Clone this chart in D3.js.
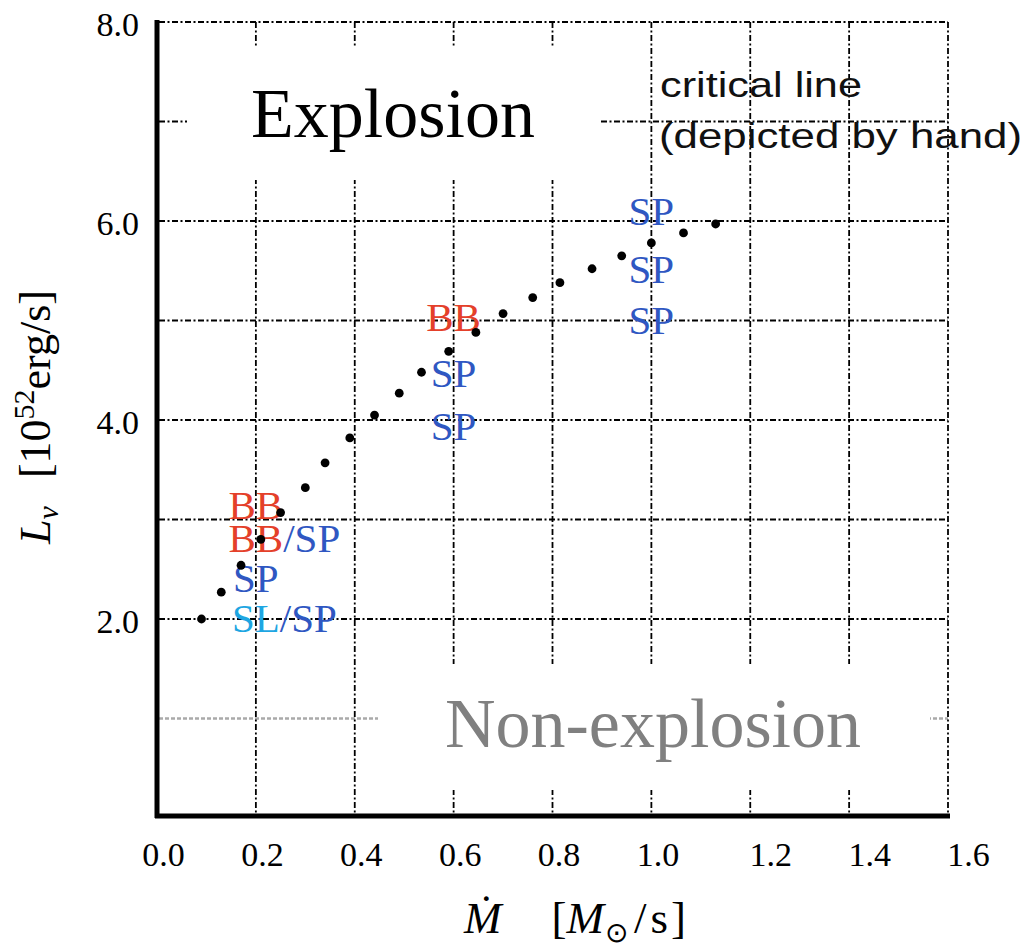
<!DOCTYPE html>
<html>
<head>
<meta charset="utf-8">
<script src="https://cdn.jsdelivr.net/npm/d3@7"></script>
<style>
  html, body { margin: 0; padding: 0; background: #fff; }
  svg { display: block; }
</style>
</head>
<body>
<svg id="chart" width="1025" height="950"></svg>
<script>
// ---------- data ----------
const xTicks = [0.0, 0.2, 0.4, 0.6, 0.8, 1.0, 1.2, 1.4, 1.6];
const yTicks = [2.0, 4.0, 6.0, 8.0];
const yGrid = [2, 3, 4, 5, 6, 7, 8];
const yGridLight = [1];

// critical line points (depicted by hand)
const mdot = [0.09, 0.13, 0.17, 0.21, 0.25, 0.30, 0.34, 0.39, 0.44, 0.49, 0.535,
              0.59, 0.645, 0.70, 0.76, 0.815, 0.88, 0.94, 1.0, 1.065, 1.13];
const lnu  = [2.00, 2.27, 2.54, 2.80, 3.07, 3.32, 3.57, 3.82, 4.05, 4.27, 4.48,
              4.69, 4.88, 5.07, 5.23, 5.38, 5.52, 5.65, 5.78, 5.88, 5.97];

// simulation outcome labels
const labelM = [0.2, 0.2, 0.2, 0.2, 0.6, 0.6, 0.6, 1.0, 1.0, 1.0];
const labelL = [3.15, 2.81, 2.41, 2.01, 5.04, 4.47, 3.94, 6.10, 5.52, 5.01];
const labelText = [["BB"], ["BB", "/SP"], ["SP"], ["SL", "/SP"], ["BB"], ["SP"], ["SP"], ["SP"], ["SP"], ["SP"]];
const labelKind = [["BB"], ["BB", "SP"], ["SP"], ["SL", "SP"], ["BB"], ["SP"], ["SP"], ["SP"], ["SP"], ["SP"]];
const kindColor = { BB: "#e4402a", SP: "#2f57c2", SL: "#1ea6e2" };

// ---------- layout ----------
const svg = d3.select("#chart");
const x = d3.scaleLinear().domain([0, 1.6]).range([157, 948]);
const y = d3.scaleLinear().domain([0, 8]).range([818, 22]);
const serif = "'Liberation Serif', 'Times New Roman', serif";
const sans = "'Liberation Sans', Arial, sans-serif";
const dash = "6,2.5,2,2.5";

// grid lines
const grid = svg.append("g");
grid.selectAll("line.h").data(yGrid).join("line")
  .attr("x1", x(0) + 2).attr("x2", x(1.6))
  .attr("y1", d => y(d)).attr("y2", d => y(d))
  .attr("stroke", "#000").attr("stroke-width", 1.8).attr("stroke-dasharray", dash);
grid.selectAll("line.hl").data(yGridLight).join("line")
  .attr("x1", x(0) + 2).attr("x2", x(1.6))
  .attr("y1", d => y(d)).attr("y2", d => y(d))
  .attr("stroke", "#aaaaaa").attr("stroke-width", 2.5).attr("stroke-dasharray", "4,2");
grid.selectAll("line.v").data(xTicks.slice(1)).join("line")
  .attr("x1", d => x(d)).attr("x2", d => x(d))
  .attr("y1", y(8)).attr("y2", y(0))
  .attr("stroke", "#000").attr("stroke-width", 1.8).attr("stroke-dasharray", dash);

// white boxes behind the region labels
svg.append("rect").attr("x", 187).attr("y", 47).attr("width", 413).attr("height", 133).attr("fill", "#fff");
svg.append("rect").attr("x", 378).attr("y", 664).attr("width", 552).attr("height", 126).attr("fill", "#fff");

svg.append("text").attr("x", 251).attr("y", 137)
  .attr("font-family", serif).attr("font-size", 70).attr("fill", "#000")
  .text("Explosion");
svg.append("text").attr("x", 445).attr("y", 747)
  .attr("font-family", serif).attr("font-size", 70).attr("fill", "#808080")
  .text("Non-explosion");

// critical line annotation
svg.append("text").attr("x", 660).attr("y", 97)
  .attr("font-family", sans).attr("font-size", 35).attr("fill", "#111")
  .attr("textLength", 202).attr("lengthAdjust", "spacingAndGlyphs")
  .text("critical line");
svg.append("text").attr("x", 659).attr("y", 148)
  .attr("font-family", sans).attr("font-size", 35).attr("fill", "#111")
  .attr("textLength", 363).attr("lengthAdjust", "spacingAndGlyphs")
  .text("(depicted by hand)");

// outcome labels
labelM.forEach((m, i) => {
  const t = svg.append("text")
    .attr("y", y(labelL[i]) + 14)
    .attr("font-family", serif).attr("font-size", 41);
  labelText[i].forEach((s, j) => {
    t.append("tspan").attr("fill", kindColor[labelKind[i][j]]).text(s);
  });
  const firstW = t.select("tspan").node().getComputedTextLength();
  t.attr("x", x(m) - firstW / 2);
});

// critical-line dots
svg.selectAll("circle.pt").data(mdot).join("circle")
  .attr("cx", d => x(d)).attr("cy", (d, i) => y(lnu[i]))
  .attr("r", 4.4).attr("fill", "#000");

// axes
const xAxis = svg.append("g").attr("transform", `translate(0,${y(0) - 2})`)
  .call(d3.axisBottom(x).tickValues(xTicks).tickFormat(d3.format(".1f")).tickSize(0).tickPadding(0));
xAxis.select(".domain").attr("stroke", "#000").attr("stroke-width", 5).attr("d", `M${x(0) - 2},0H${x(1.6) + 2}`);
xAxis.selectAll(".tick text")
  .attr("font-family", serif).attr("font-size", 34).attr("fill", "#000")
  .attr("y", 50).attr("dy", 0)
  .attr("dx", d => d > 1.1 ? 20 : 6);

const yAxis = svg.append("g").attr("transform", `translate(${x(0)},0)`)
  .call(d3.axisLeft(y).tickValues(yTicks).tickFormat(d3.format(".1f")).tickSize(0).tickPadding(0));
yAxis.select(".domain").attr("stroke", "#000").attr("stroke-width", 5).attr("d", `M0,${y(8) - 2}V${y(0)}`);
yAxis.selectAll(".tick text")
  .attr("font-family", serif).attr("font-size", 34).attr("fill", "#000")
  .attr("x", -18).attr("dy", 0).attr("y", 13);

// axis titles
const xt = svg.append("text").attr("x", 464).attr("y", 933)
  .attr("font-family", serif).attr("font-size", 45).attr("fill", "#000");
xt.append("tspan").attr("font-style", "italic").text("Ṁ");
xt.append("tspan").attr("dx", 50).text("[");
xt.append("tspan").attr("font-style", "italic").text("M");
xt.append("tspan").attr("font-size", 28).attr("dy", 9).attr("dx", 1).text("⊙");
xt.append("tspan").attr("dy", -9).attr("dx", 6).text("/");
xt.append("tspan").attr("dx", 4).text("s");
xt.append("tspan").attr("dx", 3).text("]");

const yt = svg.append("text")
  .attr("transform", "translate(50,417) rotate(-90)")
  .attr("text-anchor", "middle")
  .attr("font-family", serif).attr("font-size", 44).attr("fill", "#000");
yt.append("tspan").attr("font-style", "italic").text("L");
yt.append("tspan").attr("font-style", "italic").attr("font-size", 30).attr("dy", 8).text("ν");
yt.append("tspan").attr("dy", -8).attr("dx", 28).text("[10");
yt.append("tspan").attr("font-size", 30).attr("dy", -16).text("52");
yt.append("tspan").attr("dy", 16).text("erg/s]");
</script>
</body>
</html>
